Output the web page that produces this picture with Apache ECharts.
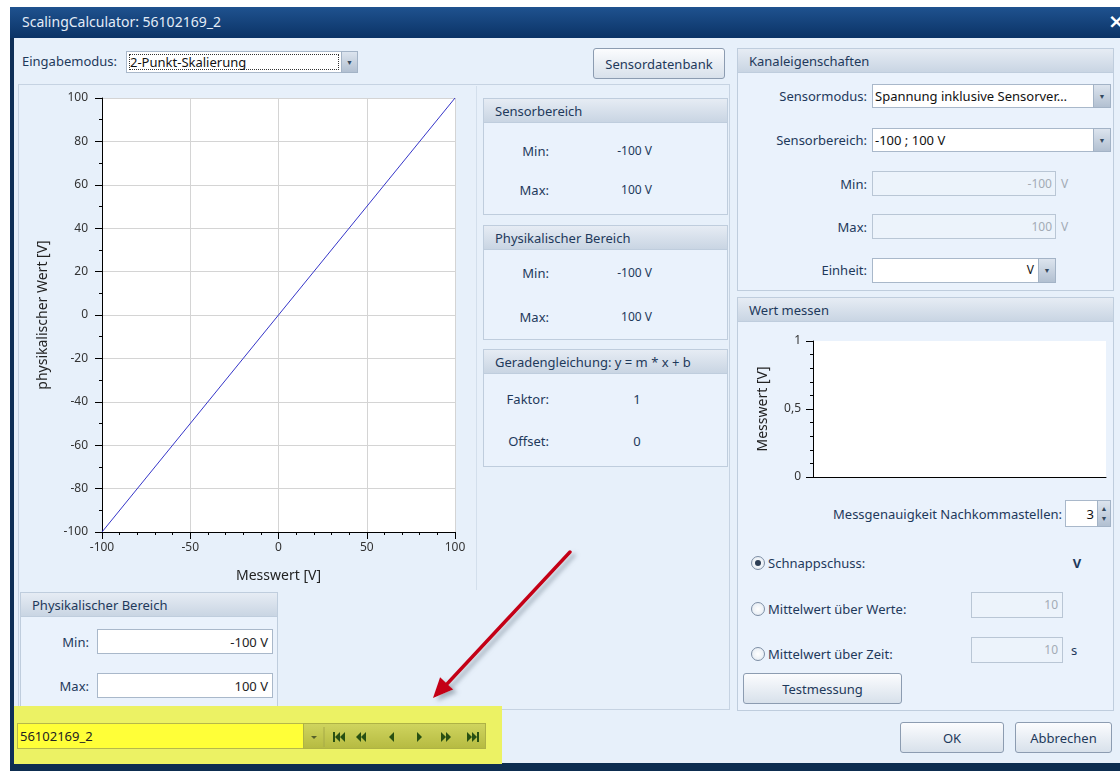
<!DOCTYPE html>
<html><head><meta charset="utf-8">
<script src="https://cdn.jsdelivr.net/npm/echarts@6/dist/echarts.min.js"></script>
<style>
body{margin:0;width:1120px;height:771px;overflow:hidden;background:#fff;font-family:"Noto Sans",sans-serif;font-size:13px;color:#1e395b;position:relative}
#ui{position:absolute;left:0;top:0;width:1120px;height:771px;z-index:1}
#chart{position:absolute;left:0;top:0;width:1120px;height:771px;z-index:5;pointer-events:none}
#arrow{position:absolute;left:0;top:0;width:1120px;height:771px;z-index:10;pointer-events:none}
.a{position:absolute;box-sizing:border-box}
.t{position:absolute;white-space:nowrap;line-height:1}
.pnl{border:1px solid #bfcddd;background:#eaf2fc}
.phd{border:1px solid #bfcddd;background:linear-gradient(#e6ecf4,#c9d5e3)}
.inp{background:#fff;border:1px solid #a9b8ca}
.dis{background:#ecf3fb;border:1px solid #b9c6d5}
.dd{background:linear-gradient(#dce4ee,#b2c0d1);border:1px solid #a3b3c6;color:#34495f;font-size:10px;display:flex;align-items:center;justify-content:center}
.btn{background:linear-gradient(#fbfcfe,#d8e1eb);border:1px solid #8c9cb1;border-radius:3px;display:flex;align-items:center;justify-content:center;color:#1e395b}
.rad{border-radius:50%;border:1px solid #7d8ea4;background:radial-gradient(#fff,#dfe7f0)}
</style></head>
<body>
<div id="ui"></div>
<div id="chart"></div>
<svg id="arrow" width="1120" height="771">
  <defs><filter id="sh" x="-20%" y="-20%" width="140%" height="140%"><feDropShadow dx="4" dy="3" stdDeviation="2" flood-color="#7a8898" flood-opacity="0.6"/></filter></defs>
  <g filter="url(#sh)">
    <line x1="570" y1="552" x2="447" y2="684" stroke="#c40018" stroke-width="3.5" stroke-linecap="round"/>
    <polygon points="433,698 453.3,689.6 440.1,677.2" fill="#c40018"/>
  </g>
</svg>
<script>
// ---------- chart data ----------
const xTickLabels = [-100, -50, 0, 50, 100];                          // Messwert [V]
const yTickLabels = [-100, -80, -60, -40, -20, 0, 20, 40, 60, 80, 100]; // physikalischer Wert [V]
const messwert = [-100, 100];     // scaling line: measured values
const physWert = [-100, 100];     // scaling line: physical values
const liveTickLabels = [0, 0.5, 1];  // "Wert messen" chart
const liveValues = [];               // no measurement yet

// ---------- dialog chrome (HTML) ----------
const ui = document.getElementById('ui');
function el(x,y,w,h,cls,html,style){const d=document.createElement('div');d.className='a '+(cls||'');d.style.cssText='left:'+x+'px;top:'+y+'px;width:'+w+'px;height:'+h+'px;'+(style||'');if(html!=null)d.innerHTML=html;ui.appendChild(d);return d;}
function txt(x,y,s,style){const d=document.createElement('div');d.className='t';d.style.cssText='left:'+x+'px;top:'+y+'px;transform:translateY(-50%);'+(style||'');d.textContent=s;ui.appendChild(d);return d;}
function txtR(x,y,s,style){const d=txt(x,y,s,style);d.style.transform='translate(-100%,-50%)';return d;}
function txtC(x,y,s,style){const d=txt(x,y,s,style);d.style.transform='translate(-50%,-50%)';return d;}
function panel(x,y,w,h,title){el(x,y,w,h,'pnl');el(x,y,w,25,'phd');txt(x+12,y+13,title);}

// window frame
el(10,7,1110,31,'',null,'background:linear-gradient(#1f528f,#0b3366)');
txt(22,22,'ScalingCalculator: 56102169_2','color:#e3ecf7;font-size:14px');
txt(1108,21,'×','color:#fff;font-family:"DejaVu Sans";font-weight:bold;font-size:20px');
el(10,38,1110,726,'',null,'background:#e7f0fa;border-left:4px solid #0f2f57');
el(10,763,1110,8,'',null,'background:#0d2d50');

// Eingabemodus
txt(22,61,'Eingabemodus:');
el(126,51,216,22,'inp','<div class="a" style="left:2px;top:2px;right:2px;bottom:2px;border:1px dotted #333"></div>');
txt(130,62,'2-Punkt-Skalierung','color:#111');
el(341,51,17,22,'dd','▼','font-size:7px');

el(593,48,132,31,'btn','Sensordatenbank');

// big left panel and chart frame
el(18,84,712,626,'',null,'border:1px solid #c6d3e2');
el(20,86,457,504,'',null,'border-right:1px solid #d3dfec');

// middle info panels
panel(483,98,245,117,'Sensorbereich');
txtR(549,151,'Min:'); txtR(652,151,'-100 V','font-size:12px');
txtR(549,190,'Max:'); txtR(652,190,'100 V','font-size:12px');
panel(483,225,245,115,'Physikalischer Bereich');
txtR(549,273,'Min:'); txtR(652,273,'-100 V','font-size:12px');
txtR(549,317,'Max:'); txtR(652,317,'100 V','font-size:12px');
panel(483,349,245,118,'Geradengleichung: y = m * x + b');
txtR(549,399,'Faktor:'); txtC(637,399,'1');
txtR(549,441,'Offset:'); txtC(637,441,'0');

// bottom-left panel
panel(20,592,258,120,'Physikalischer Bereich');
txtR(89,642,'Min:'); el(97,629,176,25,'inp'); txtR(268,642,'-100 V','color:#222');
txtR(89,686,'Max:'); el(97,673,176,25,'inp'); txtR(268,686,'100 V','color:#222');

// Kanaleigenschaften
panel(737,48,377,243,'Kanaleigenschaften');
txtR(867,96,'Sensormodus:'); el(872,84,222,24,'inp'); txt(875,96,'Spannung inklusive Sensorver…','color:#111'); el(1093,84,18,24,'dd','▼','font-size:7px');
txtR(867,140,'Sensorbereich:'); el(872,128,222,24,'inp'); txt(875,140,'-100 ; 100 V','color:#111'); el(1093,128,18,24,'dd','▼','font-size:7px');
txtR(867,184,'Min:'); el(872,171,184,25,'dis'); txtR(1052,184,'-100','color:#a3abb5;font-size:12px'); txt(1061,184,'V','color:#a3abb5;font-size:12px');
txtR(867,227,'Max:'); el(872,214,184,25,'dis'); txtR(1052,227,'100','color:#a3abb5;font-size:12px'); txt(1061,227,'V','color:#a3abb5;font-size:12px');
txtR(867,270,'Einheit:'); el(872,258,167,25,'inp'); txtR(1034,270,'V','color:#111;font-size:12px'); el(1038,258,18,25,'dd','▼','font-size:7px');

// Wert messen
panel(737,297,377,414,'Wert messen');
txtR(1062,514,'Messgenauigkeit Nachkommastellen:');
el(1065,500,33,27,'inp'); txtR(1094,514,'3','color:#111');
el(1097,500,14,27,'dd','<div style="line-height:10px;text-align:center">▲<br>▼</div>','font-size:7px');
el(751,556,14,14,'rad','<div class="a" style="left:3px;top:3px;width:6px;height:6px;border-radius:50%;background:#2c3e55"></div>');
txt(768,563,'Schnappschuss:');
txtC(1077,563,'V','font-weight:bold;color:#1e395b');
el(751,602,14,14,'rad'); txt(768,609,'Mittelwert über Werte:');
el(971,592,92,26,'dis'); txtR(1058,605,'10','color:#a3abb5;font-size:12px');
el(751,647,14,14,'rad'); txt(768,654,'Mittelwert über Zeit:');
el(971,637,92,26,'dis'); txtR(1058,650,'10','color:#a3abb5;font-size:12px');
txt(1071,650,'s','color:#1e395b');
el(743,673,159,31,'btn','Testmessung');

// dialog buttons
el(900,722,104,31,'btn','OK');
el(1015,722,97,31,'btn','Abbrechen');

// highlighted record navigator
el(14,706,488,58,'',null,'background:#ecf264');
el(17,723,287,26,'',null,'background:#ffff38;border:1px solid #b6b84a');
txt(20,736,'56102169_2','color:#222');
const nav = el(303,723,183,26,'',null,'background:linear-gradient(#cfd45e,#b6bb42);border:1px solid #aeb246');
nav.innerHTML = '<svg width="183" height="26" style="position:absolute;left:0;top:0"><g fill="#285012">'+
 '<polygon points="7,12 13,12 10,15" fill="#56602a"/>'+
 '<line x1="20" y1="3" x2="20" y2="23" stroke="#a6aa48"/>'+
 '<rect x="29" y="8" width="2" height="10"/><polygon points="36,8 36,18 31,13"/><polygon points="41,8 41,18 36,13"/>'+
 '<polygon points="57,8 57,18 52,13"/><polygon points="62,8 62,18 57,13"/>'+
 '<polygon points="90,8 90,18 85,13"/>'+
 '<polygon points="113,8 113,18 118,13"/>'+
 '<polygon points="137,8 137,18 142,13"/><polygon points="142,8 142,18 147,13"/>'+
 '<polygon points="163,8 163,18 168,13"/><polygon points="168,8 168,18 173,13"/><rect x="173" y="8" width="2" height="10"/>'+
 '</g></svg>';

// ---------- charts (ECharts) ----------
const FONT = '"Noto Sans", sans-serif';
const chart = echarts.init(document.getElementById('chart'), null, {renderer:'canvas'});
const black = {color:'#000', width:1};
chart.setOption({
  animation:false,
  backgroundColor:'transparent',
  grid:[
    {left:102, top:98, width:353, height:434, show:true, backgroundColor:'#fff', borderWidth:0},
    {left:813, top:341, width:293, height:136, show:true, backgroundColor:'#fff', borderWidth:0}
  ],
  xAxis:[
    {gridIndex:0, type:'value', min:xTickLabels[0], max:xTickLabels[xTickLabels.length-1], interval:xTickLabels[1]-xTickLabels[0],
     axisLine:{onZero:false, lineStyle:black}, axisTick:{length:7, lineStyle:black},
     minorTick:{show:true, splitNumber:5, length:3, lineStyle:black},
     splitLine:{show:true, lineStyle:{color:'#d4d4d4'}},
     axisLabel:{color:'#333', fontSize:12, margin:10, fontFamily:FONT},
     name:'Messwert [V]', nameLocation:'middle', nameGap:37, nameTextStyle:{fontSize:14, color:'#222', fontFamily:FONT}},
    {gridIndex:1, type:'value', min:0, max:1,
     axisLine:{onZero:false, lineStyle:black}, axisTick:{show:false}, axisLabel:{show:false}, splitLine:{show:false}}
  ],
  yAxis:[
    {gridIndex:0, type:'value', min:yTickLabels[0], max:yTickLabels[yTickLabels.length-1], interval:yTickLabels[1]-yTickLabels[0],
     axisLine:{onZero:false, lineStyle:black}, axisTick:{length:7, lineStyle:black},
     minorTick:{show:true, splitNumber:2, length:3, lineStyle:black},
     splitLine:{show:true, lineStyle:{color:'#d4d4d4'}},
     axisLabel:{color:'#333', fontSize:12, margin:14, fontFamily:FONT},
     name:'physikalischer Wert [V]', nameLocation:'middle', nameGap:52, nameTextStyle:{fontSize:14, color:'#222', fontFamily:FONT}},
    {gridIndex:1, type:'value', min:liveTickLabels[0], max:liveTickLabels[liveTickLabels.length-1], interval:liveTickLabels[1]-liveTickLabels[0],
     axisLine:{onZero:false, lineStyle:black}, axisTick:{length:7, lineStyle:black},
     minorTick:{show:true, splitNumber:5, length:3, lineStyle:black},
     splitLine:{show:false},
     axisLabel:{color:'#333', fontSize:12, margin:12, fontFamily:FONT, formatter:v=>String(v).replace('.', ',')},
     name:'Messwert [V]', nameLocation:'middle', nameGap:43, nameTextStyle:{fontSize:14, color:'#222', fontFamily:FONT}}
  ],
  series:[
    {type:'line', xAxisIndex:0, yAxisIndex:0, data:messwert.map((x,i)=>[x, physWert[i]]),
     showSymbol:false, symbol:'none', lineStyle:{color:'#3535c8', width:1}, silent:true},
    {type:'line', xAxisIndex:1, yAxisIndex:1, data:liveValues, showSymbol:false, silent:true}
  ]
});
</script>
</body></html>
